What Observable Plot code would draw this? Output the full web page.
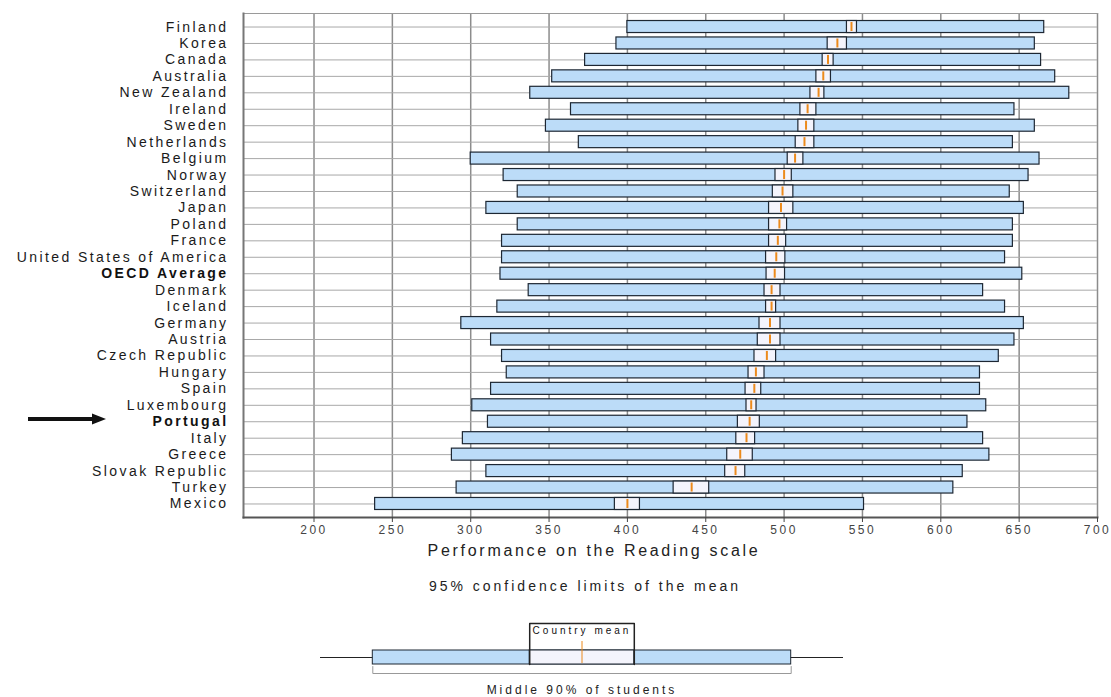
<!DOCTYPE html>
<html>
<head>
<meta charset="utf-8">
<script src="https://cdn.jsdelivr.net/npm/d3@7"></script>
<script src="https://cdn.jsdelivr.net/npm/@observablehq/plot@0.6"></script>
<style>
  body { margin: 0; background: #fff; font-family: "Liberation Sans", Arial, sans-serif; }
  #wrap { position: relative; width: 1111px; height: 697px; overflow: hidden; background: #fff; }
  #wrap > div.layer { position: absolute; left: 0; }
  .cap { position: absolute; white-space: nowrap; color: #222; transform: translate(-50%, -50%); }
  #main svg text { letter-spacing: 2.4px; }
  #main g[aria-label="x-axis tick label"] text { letter-spacing: 2.5px; }
  #legend svg text { letter-spacing: 3px; }
</style>
</head>
<body>
<div id="wrap">
  <div id="main" class="layer" style="top:0"></div>
  <div class="cap" style="left:594px; top:551px; font-size:16px; letter-spacing:2.7px;">Performance on the Reading scale</div>
  <div class="cap" style="left:585px; top:586px; font-size:14px; letter-spacing:3px;">95% confidence limits of the mean</div>
  <div id="legend" class="layer" style="top:610px"></div>
  <svg style="position:absolute; left:0; top:0; overflow:visible" width="120" height="440">
    <line x1="28" y1="419" x2="94" y2="419" stroke="#111" stroke-width="4"></line>
    <polygon points="92,413.5 106,419 92,424.5" fill="#111"></polygon>
  </svg>
</div>
<script>
// ---- Data (PISA reading scale) ----
const countries = ["Finland", "Korea", "Canada", "Australia", "New Zealand", "Ireland", "Sweden",
  "Netherlands", "Belgium", "Norway", "Switzerland", "Japan", "Poland", "France",
  "United States of America", "OECD Average", "Denmark", "Iceland", "Germany", "Austria",
  "Czech Republic", "Hungary", "Spain", "Luxembourg", "Portugal", "Italy", "Greece",
  "Slovak Republic", "Turkey", "Mexico"];
const means  = [543, 534, 528, 525, 522, 515, 514, 513, 507, 500, 499, 498, 497, 496, 495, 494,
  492, 492, 491, 491, 489, 482, 481, 479, 478, 476, 472, 469, 441, 400];
const ciLow  = [540.1, 527.8, 524.6, 520.6, 516.8, 510.4, 509.1, 507.4, 502.3, 494.5, 492.8, 490.4,
  490.4, 490.4, 488.5, 488.8, 487.5, 488.5, 484.3, 483.2, 481.1, 477.3, 475.4, 476.0, 470.5,
  469.5, 463.7, 462.4, 429.5, 392.0];
const ciHigh = [546.5, 540.1, 531.6, 529.9, 525.7, 520.6, 519.3, 519.3, 512.3, 504.9, 505.9, 505.9,
  501.9, 501.3, 500.8, 500.6, 497.7, 494.9, 497.7, 497.7, 494.9, 487.5, 485.4, 482.4, 484.5,
  481.5, 480.0, 475.2, 452.2, 408.0];
const p5  = [400, 393, 373, 352, 338, 364, 348, 369, 300, 321, 330, 310, 330, 320, 320, 319,
  337, 317, 294, 313, 320, 323, 313, 301, 311, 295, 288, 310, 291, 239];
const p95 = [666, 660, 664, 673, 682, 647, 660, 646, 663, 656, 644, 653, 646, 646, 641, 652,
  627, 641, 653, 647, 637, 625, 625, 629, 617, 627, 631, 614, 608, 551];
const boldRows = ["OECD Average", "Portugal"];
const xTicks = [200, 250, 300, 350, 400, 450, 500, 550, 600, 650, 700];

// Legend key (schematic units)
const legendStops = {whiskerLo: 0, p5: 10, ciLo: 40, mean: 50, ciHi: 60, p95: 90, whiskerHi: 100};
const legendLevels = {bracketTop: 13, barTop: 40, barMid: 47, barBottom: 54, spanBottom: 63, meanLabel: 20, spanLabel: 80};

const rows = countries.map((c, i) => ({
  country: c, mean: means[i], lo: ciLow[i], hi: ciHigh[i], p5: p5[i], p95: p95[i]
}));

const blue = "#bcdcf8", edge = "#1d2733", light = "#f4f4fc", orange = "#ec8a1c";

const main = Plot.plot({
  width: 1111, height: 540,
  marginLeft: 243, marginRight: 14, marginTop: 13, marginBottom: 23,
  style: {fontFamily: "'Liberation Sans', Arial, sans-serif", background: "transparent", overflow: "visible"},
  x: {domain: [155, 700], axis: null},
  y: {domain: countries, paddingInner: 0.27, paddingOuter: 0.457, round: false, axis: null},
  marks: [
    Plot.ruleX(xTicks, {stroke: "#8c8c8c", strokeWidth: 1.5}),
    Plot.ruleY(countries, {stroke: "#a8a8a8", strokeWidth: 1}),
    Plot.frame({anchor: "top", stroke: "#9a9a9a", strokeWidth: 1.2}),
    Plot.frame({anchor: "left", stroke: "#777", strokeWidth: 2}),
    Plot.frame({anchor: "bottom", stroke: "#555", strokeWidth: 2}),
    Plot.barX(rows, {y: "country", x1: "p5", x2: "p95", fill: blue, stroke: edge, strokeWidth: 1.2}),
    Plot.barX(rows, {y: "country", x1: "lo", x2: "hi", fill: light, stroke: edge, strokeWidth: 1.2}),
    Plot.tickX(rows, {y: "country", x: "mean", stroke: orange, strokeWidth: 2, insetTop: 1.5, insetBottom: 1.5}),
    Plot.axisX({ticks: xTicks, tickSize: 5, tickPadding: 3, fontSize: 12, color: "#444"}),
    Plot.text(rows, {filter: d => !boldRows.includes(d.country), y: "country", frameAnchor: "left", dx: -15,
      text: "country", textAnchor: "end", fontSize: 14, fill: "#1a1a1a"}),
    Plot.text(rows, {filter: d => boldRows.includes(d.country), y: "country", frameAnchor: "left", dx: -15,
      text: "country", textAnchor: "end", fontSize: 14, fontWeight: "bold", fill: "#111"})
  ]
});
document.getElementById("main").appendChild(main);

const L = legendStops, V = legendLevels;
const legend = Plot.plot({
  width: 1111, height: 87,
  marginLeft: 0, marginRight: 0, marginTop: 0, marginBottom: 0,
  style: {fontFamily: "'Liberation Sans', Arial, sans-serif", background: "transparent", overflow: "visible"},
  x: {domain: [0, 100], range: [320, 843], axis: null},
  y: {domain: [0, 87], range: [0, 87], axis: null},
  marks: [
    Plot.ruleY([V.barMid], {x1: L.whiskerLo, x2: L.whiskerHi, stroke: "#222", strokeWidth: 1.2}),
    Plot.line([[L.p5, V.barBottom + 2], [L.p5, V.spanBottom], [L.p95, V.spanBottom], [L.p95, V.barBottom + 2]],
      {stroke: "#999", strokeWidth: 1}),
    Plot.rect([{x1: L.p5, x2: L.p95, y1: V.barTop, y2: V.barBottom}],
      {x1: "x1", x2: "x2", y1: "y1", y2: "y2", fill: blue, stroke: edge, strokeWidth: 1}),
    Plot.rect([{x1: L.ciLo, x2: L.ciHi, y1: V.barTop, y2: V.barBottom}],
      {x1: "x1", x2: "x2", y1: "y1", y2: "y2", fill: light, stroke: edge, strokeWidth: 1}),
    Plot.line([[L.ciLo, V.barBottom], [L.ciLo, V.bracketTop], [L.ciHi, V.bracketTop], [L.ciHi, V.barBottom]],
      {stroke: "#222", strokeWidth: 1.5}),
    Plot.ruleX([L.mean], {y1: V.barMid - 16, y2: V.barBottom - 1, stroke: orange, strokeWidth: 1}),
    Plot.text([{x: L.mean, y: V.meanLabel, t: "Country mean"}], {x: "x", y: "y", text: "t", fontSize: 10, fill: "#111"}),
    Plot.text([{x: L.mean, y: V.spanLabel, t: "Middle 90% of students"}], {x: "x", y: "y", text: "t", fontSize: 12, fill: "#222"})
  ]
});
document.getElementById("legend").appendChild(legend);
</script>
</body>
</html>
